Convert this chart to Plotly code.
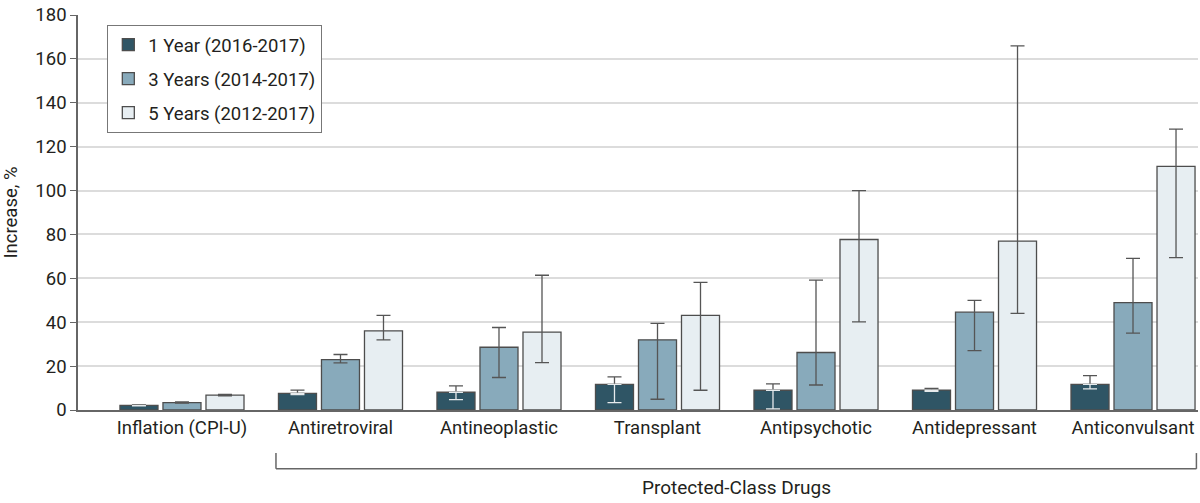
import plotly.graph_objects as go

categories = ["Inflation (CPI-U)", "Antiretroviral", "Antineoplastic", "Transplant",
              "Antipsychotic", "Antidepressant", "Anticonvulsant"]

one_year = [2.1, 7.6, 8.1, 11.7, 9.0, 9.1, 11.7]
one_year_hi = [2.4, 9.1, 11.0, 15.1, 11.9, 9.8, 15.7]
one_year_lo = [1.9, 7.0, 4.7, 3.4, 0.5, 8.5, 9.6]

three_year = [3.4, 23.0, 28.6, 32.0, 26.2, 44.6, 48.9]
three_year_hi = [3.7, 25.3, 37.6, 39.5, 59.2, 50.0, 69.1]
three_year_lo = [3.2, 21.5, 14.8, 4.9, 11.4, 27.1, 35.0]

five_year = [6.8, 36.1, 35.5, 43.1, 77.7, 77.0, 111.0]
five_year_hi = [7.1, 43.1, 61.4, 58.2, 100.0, 165.9, 128.0]
five_year_lo = [6.5, 32.0, 21.6, 9.0, 40.2, 44.0, 69.4]

series_names = ["1 Year (2016-2017)", "3 Years (2014-2017)", "5 Years (2012-2017)"]
colors = ["#2f5565", "#88aabb", "#e7eef2"]

FONT = "Roboto, Arial, sans-serif"
TEXT = "#231f20"
EDGE = "#4d4d4d"


def up(v, hi):
    return [h - x for x, h in zip(v, hi)]


def down(v, lo):
    return [x - l for x, l in zip(v, lo)]


fig = go.Figure()

data = [(one_year, one_year_hi, one_year_lo),
        (three_year, three_year_hi, three_year_lo),
        (five_year, five_year_hi, five_year_lo)]

for i, (vals, hi, lo) in enumerate(data):
    if i == 0:
        # lower half of the 1-year interval sits inside the dark bar, drawn light below
        minus = [0] * len(vals)
    else:
        minus = down(vals, lo)
    fig.add_trace(go.Bar(
        x=categories, y=vals, name=series_names[i], offsetgroup=str(i), legendgroup=str(i),
        marker=dict(color=colors[i], line=dict(color=EDGE, width=1.3)),
        error_y=dict(type="data", symmetric=False, array=up(vals, hi), arrayminus=minus,
                     color="#555555", thickness=1.3, width=7),
    ))

fig.add_trace(go.Bar(
    x=categories, y=one_year, offsetgroup="0", legendgroup="0", showlegend=False,
    hoverinfo="skip",
    marker=dict(color="rgba(0,0,0,0)", line=dict(width=0)),
    error_y=dict(type="data", symmetric=False, array=[0] * len(one_year),
                 arrayminus=down(one_year, one_year_lo), color="#e6eaec",
                 thickness=1.3, width=7),
))

fig.update_layout(
    width=1200, height=503,
    margin=dict(l=78, r=2, t=15, b=93),
    plot_bgcolor="white", paper_bgcolor="white",
    barmode="group", bargap=0.186, bargroupgap=0.116,
    font=dict(family=FONT, size=18, color=TEXT),
    legend=dict(x=0.026, y=0.975, xanchor="left", yanchor="top",
                bgcolor="white", bordercolor="#777777", borderwidth=1.2,
                font=dict(size=18.5), traceorder="grouped", tracegroupgap=7),
    xaxis=dict(range=[-0.656, 6.41], showline=True, linecolor="#666666", linewidth=1.5,
               ticks="", tickfont=dict(size=18.5), showgrid=False, automargin=False),
    yaxis=dict(range=[0, 180], dtick=20, showgrid=True, gridcolor="#dcdcdc", gridwidth=1.5,
               showline=True, linecolor="#666666", linewidth=1.5,
               ticks="outside", ticklen=6, tickcolor="#666666",
               tickfont=dict(size=18.5), zeroline=False, automargin=False,
               title=dict(text="Increase, %", font=dict(size=18.5), standoff=15)),
)

# bracket grouping the protected-class drugs
bx0, bx1 = 0.593, 6.4
line = dict(color="#666666", width=1.5)
fig.add_shape(type="line", xref="x", yref="paper", x0=bx0, x1=bx0, y0=-0.109, y1=-0.149, line=line)
fig.add_shape(type="line", xref="x", yref="paper", x0=bx0, x1=bx1, y0=-0.149, y1=-0.149, line=line)
fig.add_shape(type="line", xref="x", yref="paper", x0=bx1, x1=bx1, y0=-0.109, y1=-0.149, line=line)
fig.add_annotation(text="Protected-Class Drugs", xref="x", yref="paper",
                   x=(bx0 + bx1) / 2, y=-0.197, yanchor="middle", showarrow=False,
                   font=dict(size=19, color=TEXT))

# page body has a default 8px margin; drop it so the figure sits at the window corner
fig.write_html("out.html", config={"displayModeBar": False},
               post_script="document.body.style.margin='0';")
